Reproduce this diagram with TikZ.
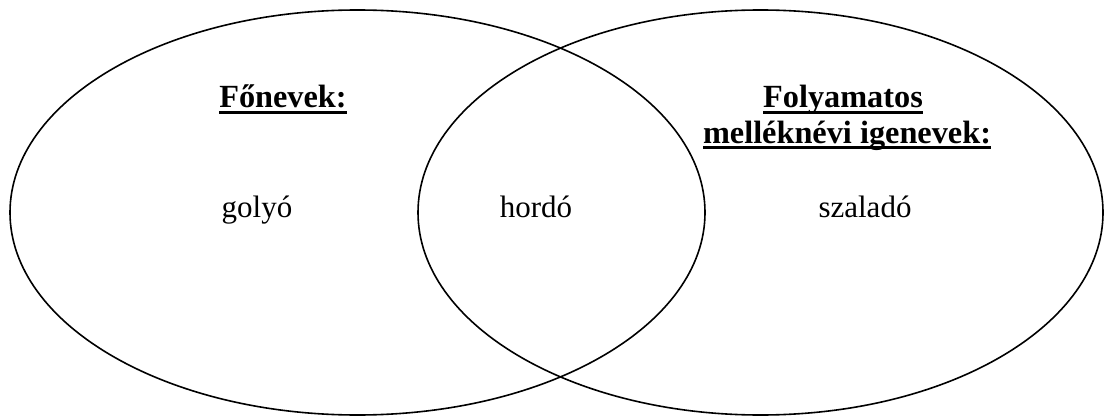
\documentclass[tikz,border=0pt]{standalone}
\usepackage{fontspec}
\setmainfont{Liberation Serif}
\usetikzlibrary{shapes.geometric}
\newcommand\ulbar[1]{\setbox0\hbox{#1}\rlap{\vrule height -3.5pt depth 6.4pt width \wd0}\box0}
\tikzset{
  setring/.style={ellipse, draw, line width=1.6pt, inner sep=0pt},
  word/.style={anchor=base, inner sep=0pt, font=\fontsize{31}{36}\selectfont},
  head/.style={anchor=base, inner sep=0pt, font=\fontsize{32.3}{37}\selectfont\bfseries}
}
\begin{document}
\begin{tikzpicture}
\useasboundingbox (0pt,0pt) rectangle (1105pt,-417pt);
\node[setring, minimum width=695pt, minimum height=405pt] (L) at (357.5pt,-212.5pt) {};
\node[setring, minimum width=685pt, minimum height=405pt] (R) at (760.5pt,-212.5pt) {};
\node[head] (fon) at (283pt,-108pt) {\ulbar{Főnevek:}};
\node[head] (fol1) at (843pt,-108pt) {\ulbar{Folyamatos}};
\node[head] (fol2) at (847pt,-143pt) {\ulbar{melléknévi igenevek:}};
\node[word] (golyo) at (257pt,-217pt) {golyó};
\node[word] (hordo) at (536pt,-217pt) {hordó};
\node[word] (szalado) at (865pt,-217pt) {szaladó};
\end{tikzpicture}
\end{document}
